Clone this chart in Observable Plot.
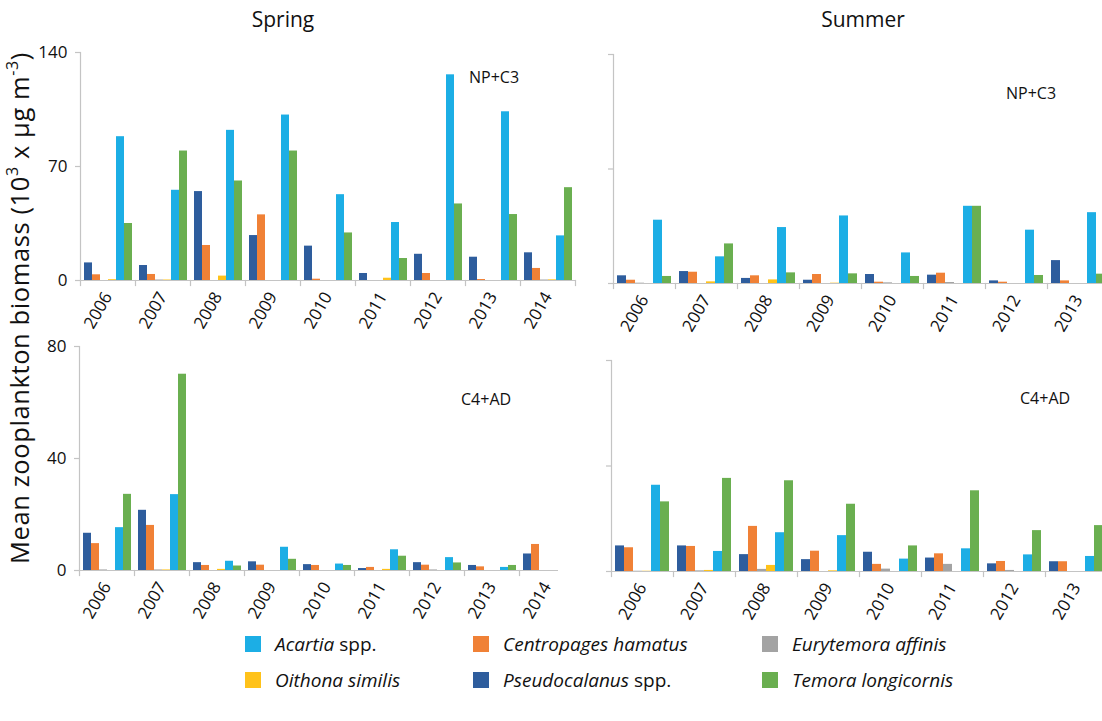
<!DOCTYPE html>
<html>
<head>
<meta charset="utf-8">
<script src="https://cdn.jsdelivr.net/npm/d3@7"></script>
<script src="https://cdn.jsdelivr.net/npm/@observablehq/plot@0.6"></script>
<style>
  html, body { margin: 0; padding: 0; background: #fff; overflow: hidden; }
  #fig { position: relative; width: 1102px; height: 721px; overflow: hidden; background: #fff; font-family: "Open Sans", sans-serif; }
  .panel { position: absolute; overflow: hidden; }
  .panel svg { display: block; overflow: visible; max-width: none !important; }
  #overlay { position: absolute; left: 0; top: 0; }
</style>
</head>
<body>
<div id="fig"></div>
<script>
// Copepod taxa, in the order the bars are drawn inside each year group
const species = [
  "Pseudocalanus spp.",
  "Centropages hamatus",
  "Eurytemora affinis",
  "Oithona similis",
  "Acartia spp.",
  "Temora longicornis"
];
const speciesColors = ["#2e5d9d", "#f08136", "#a3a3a3", "#ffc21a", "#1caee5", "#6aaf50"];

// Legend order (alphabetical, three columns by two rows)
const legendOrder = [
  "Acartia spp.", "Centropages hamatus", "Eurytemora affinis",
  "Oithona similis", "Pseudocalanus spp.", "Temora longicornis"
];

const springYears = [2006, 2007, 2008, 2009, 2010, 2011, 2012, 2013, 2014];
const summerYears = [2006, 2007, 2008, 2009, 2010, 2011, 2012, 2013];

// Mean biomass (10^3 x µg m^-3); one row per taxon, same order as `species`
const springNPC3 = [
  [10.8, 9.2, 54.6, 27.6, 21.1, 4.3, 16.1, 14.3, 17.0],
  [3.5, 3.7, 21.5, 40.3, 0.8, 0, 4.3, 0.6, 7.4],
  [0, 0.3, 0, 0, 0, 0, 0, 0, 0.3],
  [0.5, 0.3, 2.7, 0, 0, 1.4, 0, 0, 0.4],
  [88.3, 55.4, 92.2, 101.6, 52.7, 35.6, 126.3, 103.6, 27.4],
  [35.0, 79.5, 61.1, 79.5, 29.2, 13.5, 47.0, 40.5, 57.0]
];
const springC4AD = [
  [13.3, 21.5, 2.8, 3.1, 2.1, 0.7, 2.8, 1.8, 5.9],
  [9.6, 16.1, 1.8, 1.9, 1.8, 1.1, 1.9, 1.3, 9.3],
  [0.2, 0.2, 0, 0, 0, 0, 0.2, 0, null],
  [0, 0.2, 0.4, 0, 0, 0.4, 0, 0, null],
  [15.3, 27.1, 3.3, 8.3, 2.3, 7.4, 4.6, 1.1, null],
  [27.2, 70.1, 1.6, 4.0, 1.8, 5.1, 2.7, 1.8, null]
];
const summerNPC3 = [
  [4.7, 7.3, 3.1, 2.0, 5.5, 5.1, 1.6, 14.0],
  [2.0, 6.9, 4.7, 5.5, 0.8, 6.3, 0.8, 1.6],
  [0.2, 0, 0, 0, 0.4, 0.6, 0, 0],
  [0, 1.0, 2.2, 0.2, 0, 0, 0, 0],
  [38.7, 16.3, 34.2, 41.3, 18.7, 47.2, 32.6, 43.3],
  [4.3, 24.2, 6.5, 5.9, 4.3, 47.2, 4.9, 5.7]
];
const summerC4AD = [
  [9.7, 9.7, 6.4, 4.5, 7.3, 5.1, 2.9, 3.7],
  [9.0, 9.5, 17.1, 7.7, 2.7, 6.7, 3.8, 3.7],
  [0.1, 0.25, 0.8, 0, 0.9, 2.7, 0.4, 0],
  [0.1, 0.4, 2.3, 0.25, 0, 0, 0, 0],
  [32.7, 7.6, 14.7, 13.6, 4.7, 8.6, 6.3, 5.7],
  [26.4, 35.3, 34.4, 25.5, 9.7, 30.6, 15.5, 17.4]
];

const npTicks = [0, 70, 140];
const c4Ticks = [0, 40, 80];

const axisGray = "#c4c4c4";
const textColor = "#111";
const fig = document.getElementById("fig");

function tidy(years, rows) {
  const out = [];
  years.forEach((yr, i) => {
    species.forEach((sp, k) => {
      const v = rows[k][i];
      if (v != null) out.push({year: String(yr), species: sp, value: v});
    });
  });
  return out;
}

function panel({years, rows, ticks, labels, left, top, clipWidth, width, height,
                marginLeft, marginRight, marginTop, marginBottom, paddingOuter}) {
  const innerHeight = height - marginTop - marginBottom;
  const chart = Plot.plot({
    width, height, marginLeft, marginRight, marginTop, marginBottom,
    style: {fontFamily: "Open Sans, sans-serif", background: "transparent", overflow: "visible"},
    fx: {domain: years.map(String), padding: 0, label: null},
    x: {domain: species, paddingInner: 0, paddingOuter, axis: null},
    y: {domain: [ticks[0], ticks[ticks.length - 1]], axis: null},
    color: {domain: species, range: speciesColors},
    marks: [
      Plot.barY(tidy(years, rows), {fx: "year", x: "species", y: "value", fill: "species"}),
      Plot.ruleY([0], {stroke: axisGray, strokeWidth: 1.2}),
      // short ticks between year groups
      Plot.frame({anchor: "right", insetTop: innerHeight, insetBottom: -5, stroke: axisGray, strokeWidth: 1.2}),
      // value axis line
      Plot.frame({anchor: "left", facet: "super", insetBottom: -5, stroke: axisGray, strokeWidth: 1.2}),
      Plot.axisY({
        ticks, tickSize: 5, tickPadding: 8, stroke: axisGray, strokeWidth: 1.2,
        fill: textColor, fontSize: 17, label: null,
        tickFormat: labels ? (d) => String(d) : () => ""
      }),
      Plot.axisFx({
        anchor: "bottom", tickSize: 0, tickPadding: 13, tickRotate: -60,
        fontSize: 17, fill: textColor, label: null
      })
    ]
  });
  chart.style.maxWidth = "none";
  const holder = document.createElement("div");
  holder.className = "panel";
  holder.style.left = left + "px";
  holder.style.top = top + "px";
  holder.style.width = (clipWidth ?? width) + "px";
  holder.style.height = height + "px";
  holder.appendChild(chart);
  fig.appendChild(holder);
  return chart;
}

const spTop = panel({years: springYears, rows: springNPC3, ticks: npTicks, labels: true,
  left: 0, top: 40, width: 585, height: 300,
  marginLeft: 77, marginRight: 8, marginTop: 12, marginBottom: 60, paddingOuter: 0.25});
panel({years: springYears, rows: springC4AD, ticks: c4Ticks, labels: true,
  left: 0, top: 330, clipWidth: 558, width: 585, height: 300,
  marginLeft: 76, marginRight: 9, marginTop: 16, marginBottom: 60, paddingOuter: 0.25});
panel({years: summerYears, rows: summerNPC3, ticks: npTicks, labels: false,
  left: 570, top: 40, width: 551, height: 303,
  marginLeft: 40, marginRight: 10, marginTop: 14, marginBottom: 60, paddingOuter: 0.2});
panel({years: summerYears, rows: summerC4AD, ticks: c4Ticks, labels: false,
  left: 568, top: 335, width: 551, height: 295,
  marginLeft: 40, marginRight: 10, marginTop: 25, marginBottom: 59, paddingOuter: 0.2});

// Titles, shared value label, stage labels and the legend
const color = spTop.scale("color");
const svg = d3.select(fig).append("svg")
  .attr("id", "overlay").attr("width", 1102).attr("height", 721)
  .style("font-family", "Open Sans, sans-serif").style("pointer-events", "none");

svg.append("text").attr("x", 283).attr("y", 27).attr("text-anchor", "middle")
  .attr("font-size", 21).attr("fill", textColor).text("Spring");
svg.append("text").attr("x", 863).attr("y", 27).attr("text-anchor", "middle")
  .attr("font-size", 21).attr("fill", textColor).text("Summer");

const yl = svg.append("text")
  .attr("transform", "translate(29,308) rotate(-90)")
  .attr("text-anchor", "middle").attr("font-size", 25.5).attr("letter-spacing", 0.6)
  .attr("fill", textColor);
yl.append("tspan").text("Mean zooplankton biomass (10");
yl.append("tspan").attr("baseline-shift", "super").attr("font-size", 16).text("3");
yl.append("tspan").text(" x µg m");
yl.append("tspan").attr("baseline-shift", "super").attr("font-size", 16).text("-3");
yl.append("tspan").text(")");

const stageLabels = [
  {text: "NP+C3", x: 469, y: 83},
  {text: "NP+C3", x: 1006, y: 99},
  {text: "C4+AD", x: 461, y: 405},
  {text: "C4+AD", x: 1020, y: 404}
];
for (const s of stageLabels) {
  svg.append("text").attr("x", s.x).attr("y", s.y).attr("font-size", 16)
    .attr("fill", textColor).text(s.text);
}

const legendCols = [245, 473, 762];
const legendRows = [636, 672];
legendOrder.forEach((name, i) => {
  const cx = legendCols[i % 3], cy = legendRows[Math.floor(i / 3)];
  svg.append("rect").attr("x", cx).attr("y", cy).attr("width", 16).attr("height", 16)
    .attr("fill", color.apply(name));
  const t = svg.append("text").attr("x", cx + 30).attr("y", cy + 15)
    .attr("font-size", 19).attr("fill", textColor);
  const m = name.match(/^(.*?)( spp\.)?$/);
  t.append("tspan").attr("font-style", "italic").text(m[1]);
  if (m[2]) t.append("tspan").text(m[2]);
});
</script>
</body>
</html>
